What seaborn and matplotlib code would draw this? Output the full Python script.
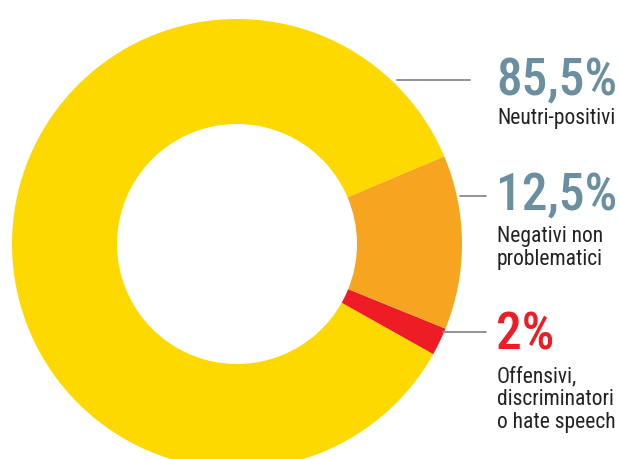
import matplotlib.pyplot as plt
import seaborn as sns

sns.set_theme(style="white")
plt.rcParams["font.family"] = ["Roboto Condensed", "DejaVu Sans"]

categories = ["Neutri-positivi", "Offensivi,\ndiscriminatori\no hate speech", "Negativi non\nproblematici"]
shares = [85.5, 2.0, 12.5]
pct_labels = ["85,5%", "2%", "12,5%"]
colors = ["#fdd900", "#ee1d25", "#f7a521"]
pct_colors = ["#6b8fa0", "#ee1d25", "#6b8fa0"]

fig = plt.figure(figsize=(6.19, 4.60), dpi=100)
ax = fig.add_axes([0, 0, 1, 1])

CX, CY, R = 237, 245, 225


def px(x, y):
    return (x - CX) / R, (CY - y) / R


ax.pie(shares, colors=colors, startangle=22.9, counterclock=True, radius=1,
       wedgeprops=dict(width=1 - 120 / R, linewidth=0))
ax.set_xlim(px(0, 0)[0], px(619, 0)[0])
ax.set_ylim(px(0, 460)[1], px(0, 0)[1])
ax.set_aspect("equal")
ax.axis("off")

# leader lines and labels (pixel positions)
leaders = [((397, 81), (470, 81)), ((443, 333), (486, 333)), ((460, 197), (486, 197))]
pct_base = [95, 350, 210]
cap_top = [107, 365, 225]
for i in range(len(shares)):
    (x0, y0), (x1, y1) = leaders[i]
    a, b = px(x0, y0)
    c, d = px(x1, y1)
    ax.plot([a, c], [b, d], color="#8a8a8a", lw=1.3)
    tx, ty = px(496, pct_base[i])
    ax.text(tx, ty, pct_labels[i], color=pct_colors[i], fontsize=37,
            fontweight="medium", ha="left", va="baseline")
    lx, ly = px(497, cap_top[i] + 1)
    ax.text(lx, ly, categories[i], color="#222222", fontsize=15.5,
            ha="left", va="top", linespacing=1.12)

fig.savefig("out.png", dpi=100)
